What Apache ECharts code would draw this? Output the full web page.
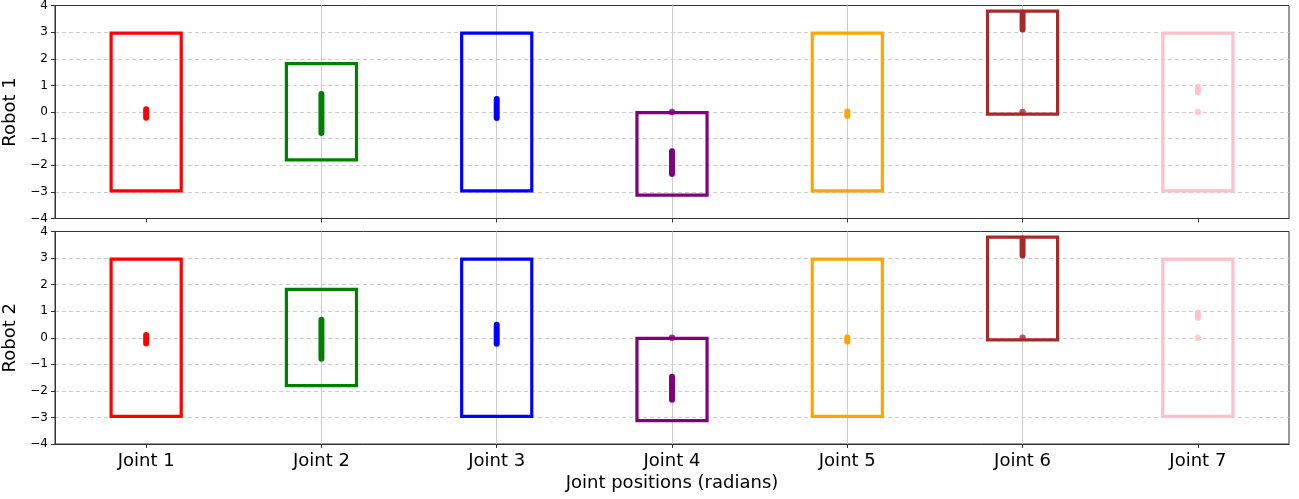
<!DOCTYPE html>
<html>
<head>
<meta charset="utf-8">
<script src="https://cdn.jsdelivr.net/npm/echarts@6/dist/echarts.min.js"></script>
<style>
html,body{margin:0;padding:0;background:#fff;}
#chart{width:1299px;height:499px;}
</style>
</head>
<body>
<div id="chart"></div>
<script>
// ---- data ----
const joints = ['Joint 1','Joint 2','Joint 3','Joint 4','Joint 5','Joint 6','Joint 7'];
const jointColors = ['#ff0000','#008000','#0000ff','#800080','#ffa500','#a52a2a','#ffc0cb'];
const limitLow  = [-2.96, -1.80, -2.96, -3.12, -2.96, -0.08, -2.96];
const limitHigh = [ 2.96,  1.82,  2.96, -0.02,  2.96,  3.79,  2.96];
// observed joint position ranges (dense samples)
const robot1Min = [-0.22, -0.79, -0.23, -2.33, -0.15, 3.10, 0.75];
const robot1Max = [ 0.10,  0.68,  0.49, -1.47,  0.02, 3.74, 0.94];
const robot2Min = [-0.22, -0.79, -0.23, -2.33, -0.15, 3.10, 0.75];
const robot2Max = [ 0.10,  0.68,  0.49, -1.47,  0.02, 3.74, 0.94];
// isolated samples [joint index (1-based), value]
const robot1Points = [[4, 0.0], [6, 0.0], [7, 0.0]];
const robot2Points = [[4, 0.0], [6, 0.0], [7, 0.0]];
const yTicks = [-4,-3,-2,-1,0,1,2,3,4];
const panelNames = ['Robot 1','Robot 2'];

const FONT = 'DejaVu Sans';
const jointIdx = joints.map((_, i) => i + 1);

function rectData() {
  return joints.map((_, i) => [i + 1, limitLow[i], limitHigh[i], i]);
}
function segData(mins, maxs) {
  return joints.map((_, i) => [i + 1, mins[i], maxs[i], i]);
}

function renderRect(params, api) {
  const x = api.value(0), lo = api.value(1), hi = api.value(2), ci = api.value(3);
  const p1 = api.coord([x - 0.2, hi]);
  const p2 = api.coord([x + 0.2, lo]);
  return {
    type: 'rect',
    shape: { x: p1[0], y: p1[1], width: p2[0] - p1[0], height: p2[1] - p1[1] },
    style: { fill: 'none', stroke: jointColors[ci], lineWidth: 3.2 }
  };
}
function renderSeg(params, api) {
  const x = api.value(0), lo = api.value(1), hi = api.value(2), ci = api.value(3);
  const p1 = api.coord([x, hi]);
  const p2 = api.coord([x, lo]);
  return {
    type: 'line',
    shape: { x1: p1[0], y1: p1[1], x2: p2[0], y2: p2[1] },
    style: { stroke: jointColors[ci], lineWidth: 6, lineCap: 'round' }
  };
}

const grids = [
  { left: 55, right: 10, top: 5.5, height: 213, show: true, borderColor: '#333', borderWidth: 1,
    containLabel: false, outerBoundsMode: 'none' },
  { left: 55, right: 10, top: 231.5, height: 212.5, show: true, borderColor: '#333', borderWidth: 1,
    containLabel: false, outerBoundsMode: 'none' }
];

const xAxes = [0, 1].map(g => ({
  type: 'value', gridIndex: g, min: 0.48, max: 7.52,
  axisLine: { show: true, onZero: false, lineStyle: { color: '#333' } },
  axisTick: { show: true, length: 4, customValues: jointIdx, lineStyle: { color: '#333' } },
  axisLabel: {
    show: g === 1, customValues: jointIdx, margin: 8,
    fontFamily: FONT, fontSize: 18, color: '#000',
    formatter: v => joints[Math.round(v) - 1] || ''
  },
  splitLine: { show: true, showMinLine: false, showMaxLine: false,
    lineStyle: { color: '#cccccc', width: 1, type: 'solid' } },
  name: g === 1 ? 'Joint positions (radians)' : '',
  nameLocation: 'middle', nameGap: 30,
  nameTextStyle: { fontFamily: FONT, fontSize: 18, color: '#000' }
}));

const yAxes = [0, 1].map(g => ({
  type: 'value', gridIndex: g, min: -4, max: 4, interval: 1,
  axisLine: { show: true, onZero: false, lineStyle: { color: '#333' } },
  axisTick: { show: true, length: 4, lineStyle: { color: '#333' } },
  axisLabel: {
    margin: 7, fontFamily: FONT, fontSize: 12, color: '#000',
    formatter: v => String(v).replace('-', '\u2212')
  },
  splitLine: { show: true, showMinLine: false, showMaxLine: false,
    lineStyle: { color: '#cccccc', width: 1, type: [4, 3] } },
  name: panelNames[g], nameLocation: 'middle', nameGap: 29,
  nameTextStyle: { fontFamily: FONT, fontSize: 18, color: '#000' }
}));

const series = [];
[[robot1Min, robot1Max, robot1Points], [robot2Min, robot2Max, robot2Points]].forEach((d, g) => {
  series.push({
    type: 'custom', xAxisIndex: g, yAxisIndex: g, clip: true,
    renderItem: renderRect, data: rectData(), z: 2, silent: true
  });
  series.push({
    type: 'custom', xAxisIndex: g, yAxisIndex: g, clip: true,
    renderItem: renderSeg, data: segData(d[0], d[1]), z: 3, silent: true
  });
  series.push({
    type: 'scatter', xAxisIndex: g, yAxisIndex: g, symbolSize: 6.5,
    data: d[2].map(p => ({ value: p, itemStyle: { color: jointColors[p[0] - 1] } })),
    z: 4, silent: true
  });
});

const chart = echarts.init(document.getElementById('chart'), null, { renderer: 'canvas' });
chart.setOption({
  animation: false,
  backgroundColor: '#ffffff',
  grid: grids,
  xAxis: xAxes,
  yAxis: yAxes,
  series: series
});
</script>
</body>
</html>
